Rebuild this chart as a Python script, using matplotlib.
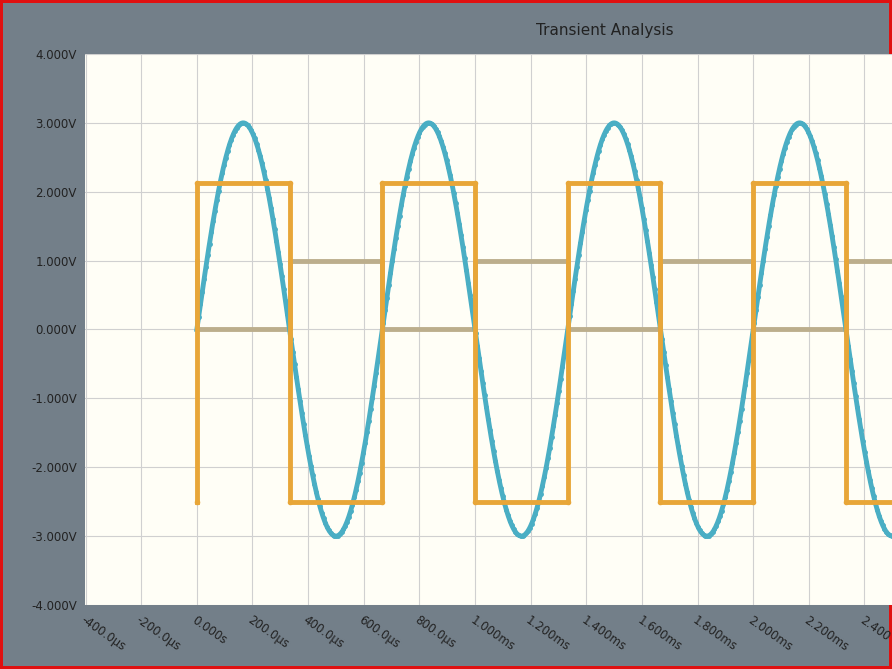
import numpy as np
import matplotlib
matplotlib.use("Agg")
import matplotlib.pyplot as plt

# data
sine_amp = 3.0
sine_period = 666.7e-6
t_end = 2.6e-3
half = sine_period / 2
sq_high = 2.12
sq_low = -2.5
gray_high = 1.0
gray_low = 0.0
xticks = [-400e-6, -200e-6, 0, 200e-6, 400e-6, 600e-6, 800e-6, 1.0e-3, 1.2e-3,
          1.4e-3, 1.6e-3, 1.8e-3, 2.0e-3, 2.2e-3, 2.4e-3]
xtick_labels = ["-400.0µs", "-200.0µs", "0.000s", "200.0µs", "400.0µs", "600.0µs",
                "800.0µs", "1.000ms", "1.200ms", "1.400ms", "1.600ms", "1.800ms",
                "2.000ms", "2.200ms", "2.400"]
yticks = [-4, -3, -2, -1, 0, 1, 2, 3, 4]
ytick_labels = ["-4.000V", "-3.000V", "-2.000V", "-1.000V", "0.000V",
                "1.000V", "2.000V", "3.000V", "4.000V"]

fig = plt.figure(figsize=(8.92, 6.69), dpi=100)
fig.patch.set_facecolor("#737f89")
fig.patch.set_edgecolor("#e01010")
fig.patch.set_linewidth(3)
ax = fig.add_axes([0.0953, 0.0957, 0.905, 0.8236])
ax.set_facecolor("#fffef6")

t = np.linspace(0, t_end, 1200)
ax.plot(t, sine_amp * np.sin(2 * np.pi * t / sine_period), color="#4aaec4", lw=3.5,
        marker="o", ms=2.5, markevery=3, zorder=3)

# square waves from breakpoints
ts, ys, gs = [0], [sq_low], [gray_high]
k = 0
while k * half < t_end:
    a = k * half
    hi = (k % 2 == 0)
    ts += [a, a + half]
    ys += [sq_high if hi else sq_low] * 2
    gs += [gray_low if hi else gray_high] * 2
    k += 1
ax.plot(ts, gs, color="#bcae8c", lw=3.5, zorder=2)
ax.plot(ts, ys, color="#e8a638", lw=3.5, zorder=4)
ax.plot(ts, ys, color="#e8a638", lw=0, marker="o", ms=3, zorder=4)

ax.set_xlim(-402e-6, 2.5e-3)
ax.set_ylim(-4, 4)
ax.set_xticks(xticks)
ax.set_xticklabels(xtick_labels, rotation=-35, ha="left", rotation_mode="anchor",
                   fontsize=8.5, color="#222222")
ax.set_yticks(yticks)
ax.set_yticklabels(ytick_labels, fontsize=8.5, color="#222222")
ax.grid(True, color="#d0d0d0", lw=0.8)
ax.tick_params(length=0, pad=6)
for s in ax.spines.values():
    s.set_visible(False)
ax.set_ylabel("Volts", fontsize=10, color="#111111", labelpad=22)
fig.text(0.678, 0.954, "Transient Analysis", ha="center", va="center",
         fontsize=11, color="#222222")
fig.savefig("out.png", dpi=100, facecolor=fig.get_facecolor(), edgecolor=fig.get_edgecolor())
